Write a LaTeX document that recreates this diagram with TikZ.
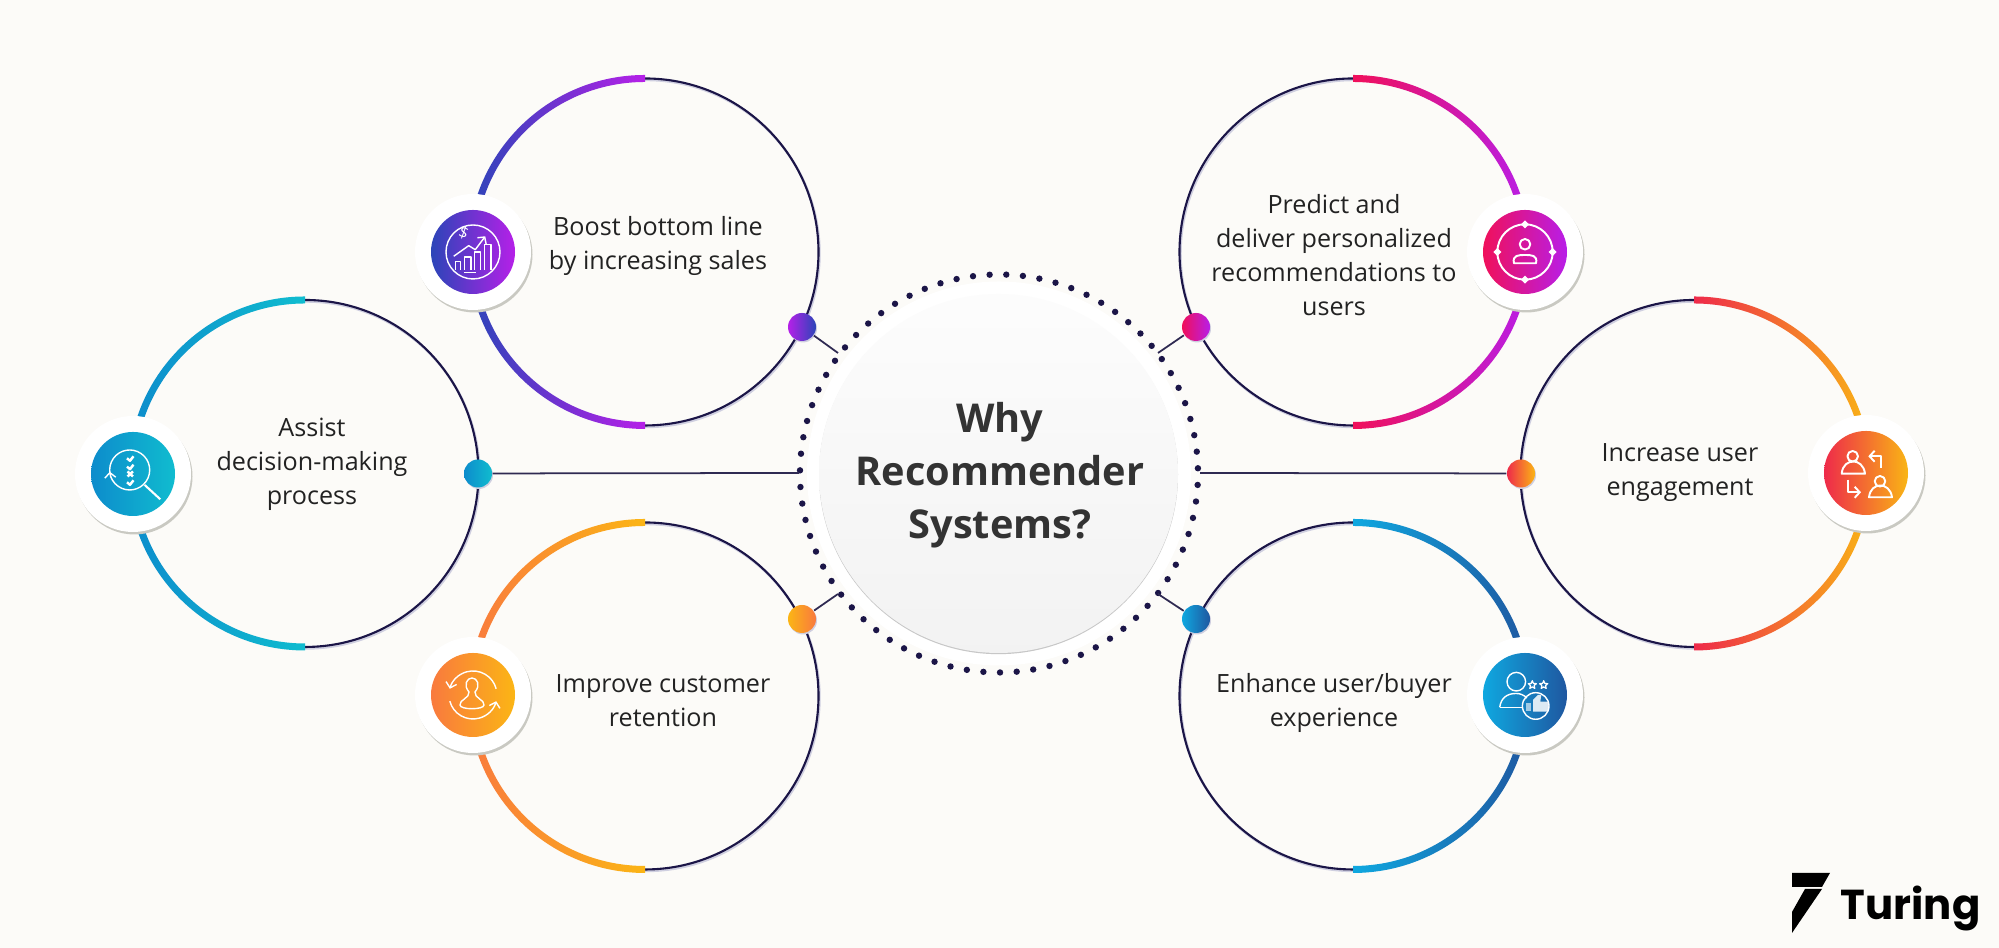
\documentclass[tikz,border=0pt]{standalone}
\usepackage{fontspec}
\setmainfont{Open Sans}
\newfontfamily\logofont{Poppins}
\usetikzlibrary{arrows.meta,shadows,shapes.geometric}
\definecolor{paper}{HTML}{FCFBF8}
\definecolor{navy}{HTML}{1B1547}
\definecolor{halo}{HTML}{CFCFE0}
\definecolor{shade}{HTML}{C9C9C2}
\definecolor{ink}{HTML}{222222}
\definecolor{boostA}{HTML}{2B45B8}
\definecolor{boostB}{HTML}{B620E8}
\definecolor{assistA}{HTML}{0D8CCC}
\definecolor{assistB}{HTML}{10BCCF}
\definecolor{keepA}{HTML}{F97A3E}
\definecolor{keepB}{HTML}{FBB515}
\definecolor{predictA}{HTML}{F0105A}
\definecolor{predictB}{HTML}{B81EE8}
\definecolor{engageA}{HTML}{EE2A4A}
\definecolor{engageB}{HTML}{F9B515}
\definecolor{enhanceA}{HTML}{0FA8E0}
\definecolor{enhanceB}{HTML}{1F57A0}
\tikzset{
  badge/.style={circle,fill=white,inner sep=0pt,minimum size=1.16cm,
    general shadow={shadow xshift=.015cm,shadow yshift=-.025cm,fill=shade}},
  face/.style={circle,inner sep=0pt,minimum size=.84cm},
  pin/.style={circle,inner sep=0pt,minimum size=.28cm,
    general shadow={shadow xshift=.01cm,shadow yshift=-.015cm,fill=halo}},
  link/.style={draw=navy!80!gray,line width=.5pt},
  caption/.style={align=center,text=ink,font=\fontsize{7.15}{9.67}\selectfont},
  icon/.style={white,line width=.4pt,line join=round},
  tip/.style={-{Straight Barb[length=.5mm,width=1.1mm]}}
}
\begin{document}
\begin{tikzpicture}
  \useasboundingbox (0,0) rectangle (19.99,9.48);
  % page
  \fill[paper] (0,0) rectangle (19.99,9.48);
  % rings with the coloured half on the left
  \foreach \cx/\cy/\ca/\cb in {6.45/6.96/boostA/boostB,3.05/4.745/assistA/assistB,6.45/2.52/keepA/keepB}{
    \draw[halo,line width=.7pt] (\cx+.01,\cy-.015) circle (1.735);
    \draw[navy,line width=.6pt] (\cx,\cy) circle (1.735);
    \shade[left color=\ca,right color=\cb] (\cx,\cy+1.77) arc[start angle=90,end angle=270,radius=1.77]
      -- (\cx,\cy-1.70) arc[start angle=270,end angle=90,radius=1.70] -- cycle;
  }
  % rings with the coloured half on the right
  \foreach \cx/\cy/\ca/\cb in {13.53/6.96/predictA/predictB,16.94/4.745/engageA/engageB,13.53/2.52/enhanceA/enhanceB}{
    \draw[halo,line width=.7pt] (\cx+.01,\cy-.015) circle (1.735);
    \draw[navy,line width=.6pt] (\cx,\cy) circle (1.735);
    \shade[left color=\ca,right color=\cb] (\cx,\cy+1.77) arc[start angle=90,end angle=-90,radius=1.77]
      -- (\cx,\cy-1.70) arc[start angle=-90,end angle=90,radius=1.70] -- cycle;
  }
  % white halo and dotted ring round the hub
  \fill[white] (9.99,4.745) circle (1.92);
  \foreach \i in {0,...,74}
    \fill[navy] (9.99,4.745) ++({1.5+\i*4.8}:1.99) circle (.032);
  % hub
  \node[circle,top color=white!98!gray,bottom color=black!5,inner sep=0pt,minimum size=3.59cm,
    general shadow={shadow yshift=-.012cm,fill=black!22}] (hub) at (9.985,4.745) {};
  \node[align=center,text=black!80,font=\fontsize{11.3}{15.1}\selectfont\bfseries] (hubText) at (10.0,4.73) {Why\\Recommender\\Systems?};
  % free ends of the connectors on the dotted ring
  \coordinate (ringW) at (7.99,4.75);
  \coordinate (ringE) at (12.0,4.75);
  \coordinate (ringNW) at (8.38,5.95);
  \coordinate (ringNE) at (11.58,5.95);
  \coordinate (ringSW) at (8.38,3.54);
  \coordinate (ringSE) at (11.58,3.54);
  % pins on the rings
  \node[pin,left color=boostB,right color=boostA] (pinBoost) at (8.02,6.21) {};
  \node[pin,left color=assistA,right color=assistB] (pinAssist) at (4.78,4.745) {};
  \node[pin,left color=keepB,right color=keepA] (pinKeep) at (8.02,3.29) {};
  \node[pin,left color=predictA,right color=predictB] (pinPredict) at (11.96,6.21) {};
  \node[pin,left color=engageA,right color=keepB] (pinEngage) at (15.21,4.745) {};
  \node[pin,left color=enhanceA,right color=enhanceB] (pinEnhance) at (11.96,3.29) {};
  % connectors
  \draw[link] (pinBoost) -- (ringNW);
  \draw[link] (pinAssist) -- (ringW);
  \draw[link] (pinKeep) -- (ringSW);
  \draw[link] (pinPredict) -- (ringNE);
  \draw[link] (pinEngage) -- (ringE);
  \draw[link] (pinEnhance) -- (ringSE);
  % badges
  \node[badge] (badgeBoost) at (4.73,6.96) {};
  \node[badge] (badgeAssist) at (1.33,4.74) {};
  \node[badge] (badgeKeep) at (4.73,2.53) {};
  \node[badge] (badgePredict) at (15.25,6.96) {};
  \node[badge] (badgeEngage) at (18.66,4.75) {};
  \node[badge] (badgeEnhance) at (15.25,2.53) {};
  \node[face,left color=boostA,right color=boostB] (faceBoost) at (badgeBoost) {};
  \node[face,left color=assistA,right color=assistB] (faceAssist) at (badgeAssist) {};
  \node[face,left color=keepA,right color=keepB] (faceKeep) at (badgeKeep) {};
  \node[face,left color=predictA,right color=predictB] (facePredict) at (badgePredict) {};
  \node[face,left color=engageA,right color=engageB] (faceEngage) at (badgeEngage) {};
  \node[face,left color=enhanceA,right color=enhanceB] (faceEnhance) at (badgeEnhance) {};
  % icon: chart and dollar
  \begin{scope}[shift={(faceBoost.center)},icon]
    \draw (0,0) circle (.27);
    \foreach \xa/\xb/\yt in {-.177/-.127/-.093,-.087/-.02/-.05,.013/.073/0,.113/.18/.073}
      \draw (\xa,-.177) -- (\xa,\yt) -- (\xb,\yt) -- (\xb,-.177);
    \draw[tip] (-.193,-.043) -- (-.043,.063) -- (.023,.023) -- (.123,.157);
    \draw (-.09,-.205) -- (.03,-.205);
    \node[rotate=-20,white,font=\fontsize{4.5}{5}\selectfont,inner sep=0pt] (dollar) at (-.093,.19) {\$};
  \end{scope}
  % icon: magnifier with ticks
  \begin{scope}[shift={(faceAssist.center)},icon]
    \draw[tip] (-.033,.04) ++(235:.2) arc[start angle=235,end angle=-175,radius=.2];
    \draw[line width=.6pt] (.117,-.11) -- (.273,-.253);
    \foreach \yt in {.157,.073,-.083}
      \draw[line width=.7pt] (-.06,\yt) -- (-.03,\yt-.025) -- (.005,\yt+.02);
    \draw[line width=.7pt] (-.055,.025) -- (0,-.025) (-.055,-.025) -- (0,.025);
  \end{scope}
  % icon: person between two arrows
  \begin{scope}[shift={(faceKeep.center)},icon]
    \draw[tip] (15:.24) arc[start angle=15,end angle=165,radius=.24];
    \draw[tip] (195:.24) arc[start angle=195,end angle=345,radius=.24];
    \draw (-.04,.03) .. controls (-.03,-.03) and (-.14,-.05) .. (-.13,-.1) .. controls (-.13,-.15) and (.11,-.15) .. (.11,-.1)
      .. controls (.12,-.05) and (.01,-.03) .. (.02,.03) .. controls (.08,.10) and (.04,.17) .. (-.01,.17)
      .. controls (-.06,.17) and (-.10,.10) .. (-.04,.03) -- cycle;
  \end{scope}
  % icon: person in a target
  \begin{scope}[shift={(facePredict.center)},icon]
    \draw[line width=.55pt] (0,0) circle (.277);
    \foreach \a in {0,90,180,270}
      \fill (\a:.277) ++(\a:.04) -- ++(\a+135:.0566) -- ++(\a+225:.0566) -- ++(\a+315:.0566) -- cycle;
    \draw[line width=.55pt] (0,.077) circle (.053);
    \draw[line width=.55pt] (-.11,-.113) -- (.11,-.113) .. controls (.13,-.03) and (.06,-.03) .. (0,-.03) .. controls (-.06,-.03) and (-.13,-.03) .. (-.11,-.113) -- cycle;
  \end{scope}
  % icon: two people swapping
  \begin{scope}[shift={(faceEngage.center)},icon]
    \draw[line width=.55pt] (-.133,.167) circle (.053);
    \draw[line width=.55pt] (-.243,-.007) -- (-.01,-.007) .. controls (-.02,.08) and (-.08,.115) .. (-.125,.115) .. controls (-.18,.115) and (-.235,.08) .. (-.243,-.007) -- cycle;
    \draw[line width=.55pt] (.14,-.083) circle (.053);
    \draw[line width=.55pt] (.03,-.243) -- (.26,-.243) .. controls (.25,-.16) and (.19,-.125) .. (.145,-.125) .. controls (.09,-.125) and (.04,-.16) .. (.03,-.243) -- cycle;
    \draw[line width=.55pt,tip] (.15,.05) -- (.15,.167) -- (.023,.167);
    \draw[line width=.55pt,tip] (-.177,-.067) -- (-.177,-.193) -- (-.05,-.193);
  \end{scope}
  % icon: user with thumb and stars
  \begin{scope}[shift={(faceEnhance.center)},icon]
    \draw (-.087,.133) circle (.093);
    \draw (-.253,-.123) .. controls (-.24,-.03) and (-.18,.015) .. (-.09,.015) .. controls (-.05,.015) and (-.02,.005) .. (.02,-.03);
    \draw (-.253,-.123) -- (-.03,-.123);
    \draw (.107,-.11) circle (.133);
    \fill[white,opacity=.85] (.08,-.05) -- (.13,0) -- (.163,0) -- (.153,-.067) -- (.24,-.067) -- (.23,-.167) -- (.08,-.167) -- cycle;
    \fill[white,opacity=.6] (.013,-.083) rectangle (.063,-.16);
    \node[star,star points=5,star point ratio=2.2,draw=white,line width=.35pt,inner sep=0pt,minimum size=.085cm] (starA) at (.073,.1) {};
    \node[star,star points=5,star point ratio=2.2,draw=white,line width=.35pt,inner sep=0pt,minimum size=.085cm] (starB) at (.187,.1) {};
  \end{scope}
  % captions
  \node[caption] (textBoost) at (6.58,7.02) {Boost bottom line\\by increasing sales};
  \node[caption] (textAssist) at (3.12,4.84) {Assist\\decision-making\\process};
  \node[caption] (textKeep) at (6.63,2.47) {Improve customer\\retention};
  \node[caption] (textPredict) at (13.34,6.93) {Predict and\\deliver personalized\\recommendations to\\users};
  \node[caption] (textEngage) at (16.80,4.75) {Increase user\\engagement};
  \node[caption] (textEnhance) at (13.34,2.45) {Enhance user/buyer\\experience};
  % logo
  \fill[black] (17.92,.75) -- (18.30,.75) -- (18.22,.61) -- (17.92,.61) -- cycle;
  \fill[black] (18.05,.59) -- (18.22,.59) -- (17.92,.15) -- (17.92,.36) -- cycle;
  \node[anchor=base west,inner sep=0pt,font=\logofont\bfseries\fontsize{11.9}{14}\selectfont] (logo) at (18.40,.28) {Turing};
\end{tikzpicture}
\end{document}
